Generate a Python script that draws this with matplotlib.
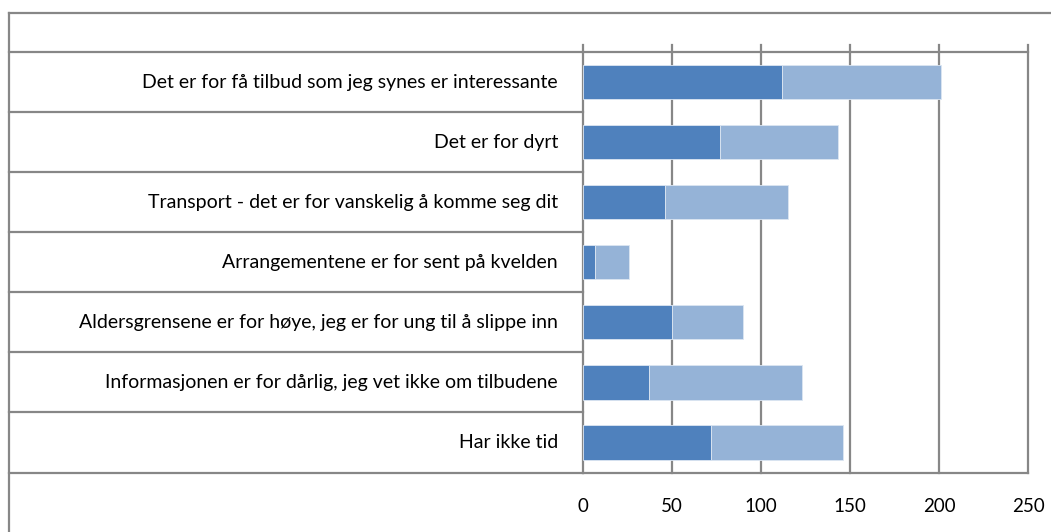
import matplotlib.pyplot as plt
from matplotlib.lines import Line2D

plt.rcParams['font.family'] = ['Lato', 'DejaVu Sans']

# Data (top to bottom as shown)
categories = [
    "Det er for få tilbud som jeg synes er interessante",
    "Det er for dyrt",
    "Transport - det er for vanskelig å komme seg dit",
    "Arrangementene er for sent på kvelden",
    "Aldersgrensene er for høye, jeg er for ung til å slippe inn",
    "Informasjonen er for dårlig, jeg vet ikke om tilbudene",
    "Har ikke tid",
]
series_a = [112, 77, 46, 7, 50, 37, 72]
series_b = [89, 66, 69, 19, 40, 86, 74]
xticks = [0, 50, 100, 150, 200, 250]

W, H = 1051, 532
fig = plt.figure(figsize=(W / 100, H / 100), dpi=100)

# axes box in pixel coordinates
x0, x1 = 583, 1028
y_top, y_bot = 52, 472.5
ax = fig.add_axes([x0 / W, (H - y_bot) / H, (x1 - x0) / W, (y_bot - y_top) / H])

grid_col = '#878787'
dark = '#4F81BD'
light = '#95B3D7'

n = len(categories)
ypos = list(range(n))
ax.barh(ypos, series_a, height=0.57, color=dark, edgecolor='#dce6f2', linewidth=0.6, zorder=3)
ax.barh(ypos, series_b, left=series_a, height=0.57, color=light, edgecolor='#dce6f2',
        linewidth=0.6, zorder=3)

ax.set_xlim(0, 250)
ax.set_ylim(n - 0.5, -0.5)
ax.set_yticks([])
ax.set_xticks([])
for s in ax.spines.values():
    s.set_visible(False)

px = 250 / (x1 - x0)  # data units per pixel

# vertical gridlines (extend slightly above top as tick marks)
for t in xticks:
    ax.plot([t, t], [n - 0.5, -0.62], color=grid_col, lw=1.6, clip_on=False, zorder=2)
    ax.text(t, n - 0.5 + 0.56, str(t), ha='center', va='center', fontsize=13.5, color='black')

# horizontal table lines from the outer frame to the axis
for k in range(n + 1):
    yv = k - 0.5
    ax.plot([-(x0 - 8.5) * px, 0], [yv, yv], color=grid_col, lw=1.6, clip_on=False, zorder=2)
# top and bottom lines across the grid
for yv in (-0.5, n - 0.5):
    ax.plot([0, 250], [yv, yv], color=grid_col, lw=1.6, clip_on=False, zorder=2)

# category labels
for i, c in enumerate(categories):
    ax.text(-25 * px, i, c, ha='right', va='center', fontsize=14, color='black')

# outer frame (cut off at right and bottom)
fig.add_artist(Line2D([8.5 / W, 8.5 / W], [0, 1 - 13 / H], color=grid_col, lw=1.6))
fig.add_artist(Line2D([8.5 / W, 1], [1 - 13 / H, 1 - 13 / H], color=grid_col, lw=1.6))

plt.savefig('out.png', dpi=100)
